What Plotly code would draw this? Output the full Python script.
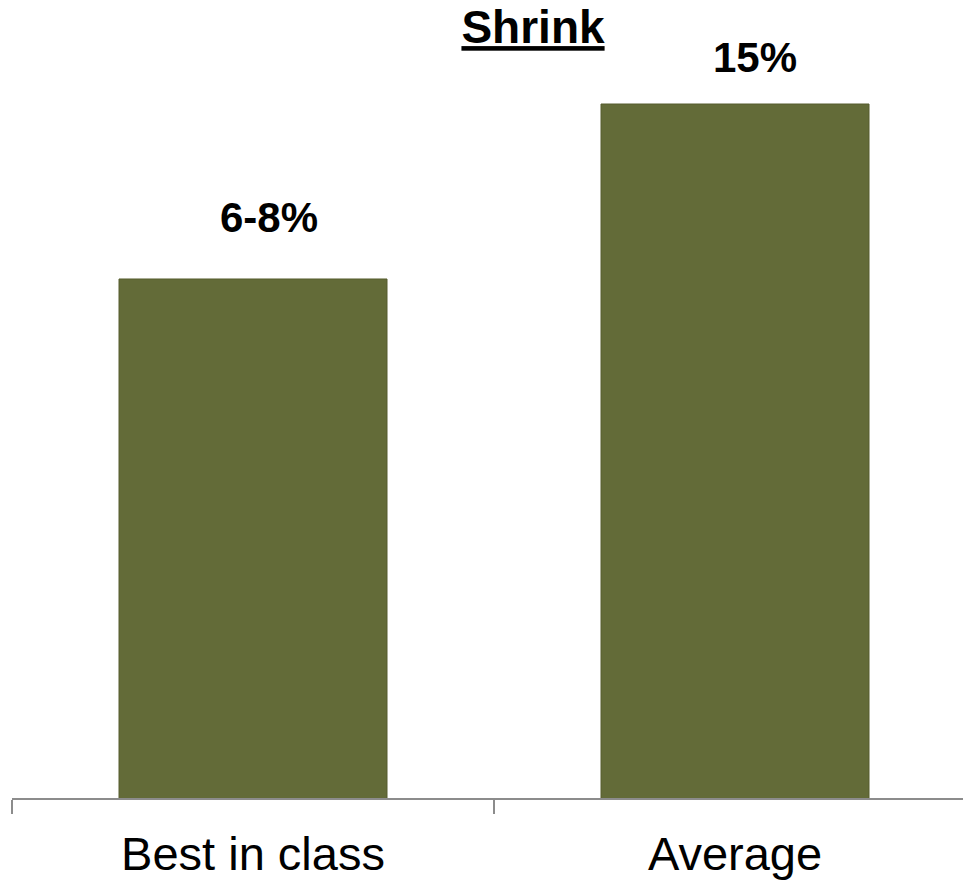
import numpy as np
import plotly.graph_objects as go

# Shrink as a share of volume
categories = ["Best in class", "Average"]
shrink_pct = [7, 15]            # best-in-class plotted at the middle of its 6-8% range
value_labels = ["6-8%", "15%"]

# label placement (pixels) relative to the top of each bar
label_dx = [16, 20]
label_dy = [61, 47]

BAR_COLOR = "#636B38"
AXIS_GREY = "#8C8C8C"
FONT = "Arial, Liberation Sans, sans-serif"

fig = go.Figure(
    go.Bar(
        x=categories,
        y=shrink_pct,
        width=0.556,
        marker=dict(color=BAR_COLOR, line=dict(color="#565D2E", width=1)),
        hoverinfo="skip",
    )
)

for cat, val, txt, dx, dy in zip(categories, shrink_pct, value_labels, label_dx, label_dy):
    fig.add_annotation(
        x=cat, y=np.log10(val), text=f"<b>{txt}</b>", showarrow=False,
        xanchor="center", yanchor="middle", xshift=dx, yshift=dy,
        font=dict(family=FONT, size=42, color="black"),
    )

fig.update_layout(
    width=963, height=884,
    margin=dict(l=12, r=0, t=0, b=86),
    paper_bgcolor="white", plot_bgcolor="white",
    showlegend=False,
    title=dict(
        text="<b><u>Shrink</u></b>",
        xref="container", yref="container",
        x=0.5535, y=1 - 27 / 884, xanchor="center", yanchor="middle",
        font=dict(family=FONT, size=46, color="black"),
    ),
    xaxis=dict(
        type="category", range=[-0.5, 1.473],
        tickson="boundaries", ticks="outside", ticklen=14, tickwidth=1.5,
        tickcolor=AXIS_GREY, showline=True, linecolor=AXIS_GREY, linewidth=2,
        showgrid=False, zeroline=False, ticklabelstandoff=14,
        tickfont=dict(family=FONT, size=47, color="black"),
    ),
    yaxis=dict(
        type="log", range=[-0.1366, 1.3728],
        visible=False, showgrid=False, zeroline=False,
    ),
)

fig.write_html("out.html")
